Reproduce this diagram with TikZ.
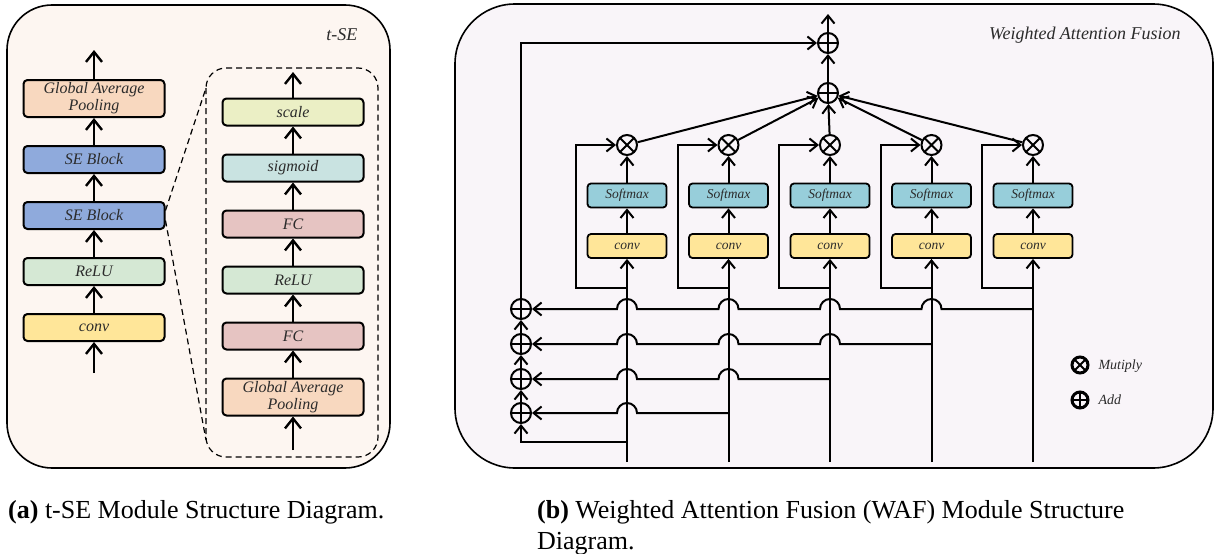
\documentclass[tikz,border=0pt]{standalone}
\usepackage{fontspec}
\setmainfont{Liberation Serif}
\usepackage{xcolor}
\usepackage{tikz}
\usetikzlibrary{arrows.meta,positioning,calc}
\definecolor{cInk}{HTML}{2B2B2B}
\definecolor{cBgL}{HTML}{FDF6F1}
\definecolor{cBgR}{HTML}{F9F5F9}
\definecolor{cGap}{HTML}{F8D8BF}
\definecolor{cSE}{HTML}{8FAADC}
\definecolor{cRelu}{HTML}{D5E8D4}
\definecolor{cConv}{HTML}{FFE699}
\definecolor{cScale}{HTML}{EBEFC5}
\definecolor{cSig}{HTML}{C9E3E1}
\definecolor{cFC}{HTML}{E6C4C2}
\definecolor{cSoft}{HTML}{97CEDA}
\tikzset{
  panel/.style={draw=black,fill=#1,line width=1.6pt},
  blk/.style={draw=black,fill=#1,rounded corners=4pt,line width=2pt,minimum width=141pt,minimum height=27pt,inner sep=2pt,align=center,text=cInk,font=\fontsize{16}{18}\selectfont\itshape},
  opbox/.style={draw=black,fill=#1,rounded corners=3.5pt,line width=1.8pt,minimum width=79pt,minimum height=24pt,inner sep=1pt,text=cInk,font=\fontsize{13.5}{15}\selectfont\itshape},
  arrL/.style={-{Straight Barb[length=10pt,width=16pt]},line width=2.4pt},
  arr/.style={-{Straight Barb[length=8pt,width=13pt]},line width=2pt},
  zoomline/.style={line width=1.2pt,dash pattern=on 6pt off 4pt},
  addop/.style={circle,draw=black,line width=2pt,minimum size=20pt,inner sep=0pt,
    path picture={\draw[line width=1.8pt] (path picture bounding box.north) -- (path picture bounding box.south)
      (path picture bounding box.west) -- (path picture bounding box.east);}},
  mulop/.style={circle,draw=black,line width=2pt,minimum size=20pt,inner sep=0pt,
    path picture={\draw[line width=1.8pt] (path picture bounding box.north west) -- (path picture bounding box.south east)
      (path picture bounding box.south west) -- (path picture bounding box.north east);}},
  ttl/.style={font=\fontsize{18}{20}\selectfont\itshape,text=cInk},
  lgd/.style={font=\fontsize{14}{16}\selectfont\itshape,text=cInk,anchor=west},
  captxt/.style={font=\fontsize{26}{31}\selectfont,anchor=base west,inner sep=0pt},
}

\begin{document}
\begin{tikzpicture}[x=1pt,y=-1pt]
  \useasboundingbox (0,0) rectangle (1216,554);
  % panel backgrounds
  \draw[panel=cBgL,rounded corners=45pt] (7,5) rectangle (390,468);
  \draw[panel=cBgR,rounded corners=60pt] (455,4) rectangle (1213,468);
  \node[ttl,anchor=east] at (361,35) {t-SE};
  \node[ttl,anchor=east] at (1184,35) {Weighted Attention Fusion};

  % t-SE stack
  \node[blk=cGap,minimum height=37pt] (gap) at (94,98.5) {Global Average\\[-1pt]Pooling};
  \node[blk=cSE,below=27pt of gap] (se1) {SE Block};
  \node[blk=cSE,below=27pt of se1] (se2) {SE Block};
  \node[blk=cRelu,below=27pt of se2] (relu) {ReLU};
  \node[blk=cConv,below=27pt of relu] (conv) {conv};
  \coordinate (inL) at (94,373);
  \coordinate (outL) at (94,50);
  \draw[arrL] (inL) -- (conv);
  \foreach \a/\b in {conv/relu,relu/se2,se2/se1,se1/gap} \draw[arrL] (\a) -- (\b);
  \draw[arrL] (gap) -- (outL);

  % SE block, expanded
  \draw[zoomline,rounded corners=20pt] (206,68) rectangle (378,457);
  \coordinate (zt) at (206,88);
  \coordinate (zb) at (206,440);
  \draw[zoomline] ($(se2.east)+(0,-5)$) -- (zt);
  \draw[zoomline] ($(se2.east)+(0,5)$) -- (zb);
  \node[blk=cScale] (scl) at (293,112) {scale};
  \node[blk=cSig,below=27pt of scl] (sig) {sigmoid};
  \node[blk=cFC,below=27pt of sig] (fc2) {FC};
  \node[blk=cRelu,below=27pt of fc2] (relu2) {ReLU};
  \node[blk=cFC,below=27pt of relu2] (fc1) {FC};
  \node[blk=cGap,minimum height=37pt,below=27pt of fc1] (gap2) {Global Average\\[-1pt]Pooling};
  \coordinate (inS) at (293,450);
  \coordinate (outS) at (293,72);
  \draw[arrL] (inS) -- (gap2);
  \foreach \a/\b in {gap2/fc1,fc1/relu2,relu2/fc2,fc2/sig,sig/scl} \draw[arrL] (\a) -- (\b);
  \draw[arrL] (scl) -- (outS);

  % WAF: five branches conv -> Softmax -> multiply
  \node[addop] (sum) at (828,93) {};
  \node[addop] (top) at (828,43) {};
  \coordinate (out) at (828,14);
  \foreach \i in {1,...,5} {
    \pgfmathsetmacro\cx{627+101.5*(\i-1)}
    \coordinate (c\i) at (\cx,462);
    \coordinate (br\i) at (\cx,288);
    \coordinate (lp\i) at (\cx-51,288);
    \node[opbox=cConv] (cv\i) at (\cx,246) {conv};
    \node[opbox=cSoft] (sm\i) at (\cx,195.5) {Softmax};
    \node[mulop] (mul\i) at (\cx,145) {};
    \draw[arr] (c\i) -- (cv\i);
    \draw[arr] (cv\i) -- (sm\i);
    \draw[arr] (sm\i) -- (mul\i);
    \draw[arr] (br\i) -- (lp\i) |- (mul\i);
    \draw[arr] (mul\i) -- (sum);
  }
  \draw[arr] (sum) -- (top);
  \draw[arr] (top) -- (out);

  % residual chain of adds on the left, lines hop over the columns
  \foreach \k/\y in {1/309,2/344,3/379,4/413} \node[addop] (p\k) at (521,\y) {};
  \foreach \k in {1,...,4} {
    \pgfmathtruncatemacro\src{6-\k}
    \pgfmathtruncatemacro\last{5-\k}
    \draw[arr] (c\src |- p\k) \foreach \j in {\last,...,1} {
      -- ($(c\j |- p\k)+(10,0)$) arc[start angle=0,end angle=180,radius=10pt] } -- (p\k);
  }
  \coordinate (b1) at (627,442);
  \coordinate (b0) at (521,442);
  \draw[arr] (b1) -- (b0) -- (p4);
  \foreach \a/\b in {p4/p3,p3/p2,p2/p1} \draw[arr] (\a) -- (\b);
  \coordinate (up) at (521,43);
  \draw[arr] (p1) -- (up) -- (top);

  % legend
  \node[mulop,line width=3pt,minimum size=16pt] (lgm) at (1080,365) {};
  \node[lgd] at (1095,366) {Mutiply};
  \node[addop,line width=3pt,minimum size=16pt] (lga) at (1080,400) {};
  \node[lgd] at (1095,400) {Add};

  % captions
  \node[captxt] (capa) at (8,518) {\textbf{(a)} t-SE Module Structure Diagram.};
  \node[captxt] (capb) at (537,518) {\textbf{(b)} Weighted Attention Fusion (WAF) Module Structure};
  \node[captxt] (capc) at (537,549) {Diagram.};
\end{tikzpicture}
\end{document}
